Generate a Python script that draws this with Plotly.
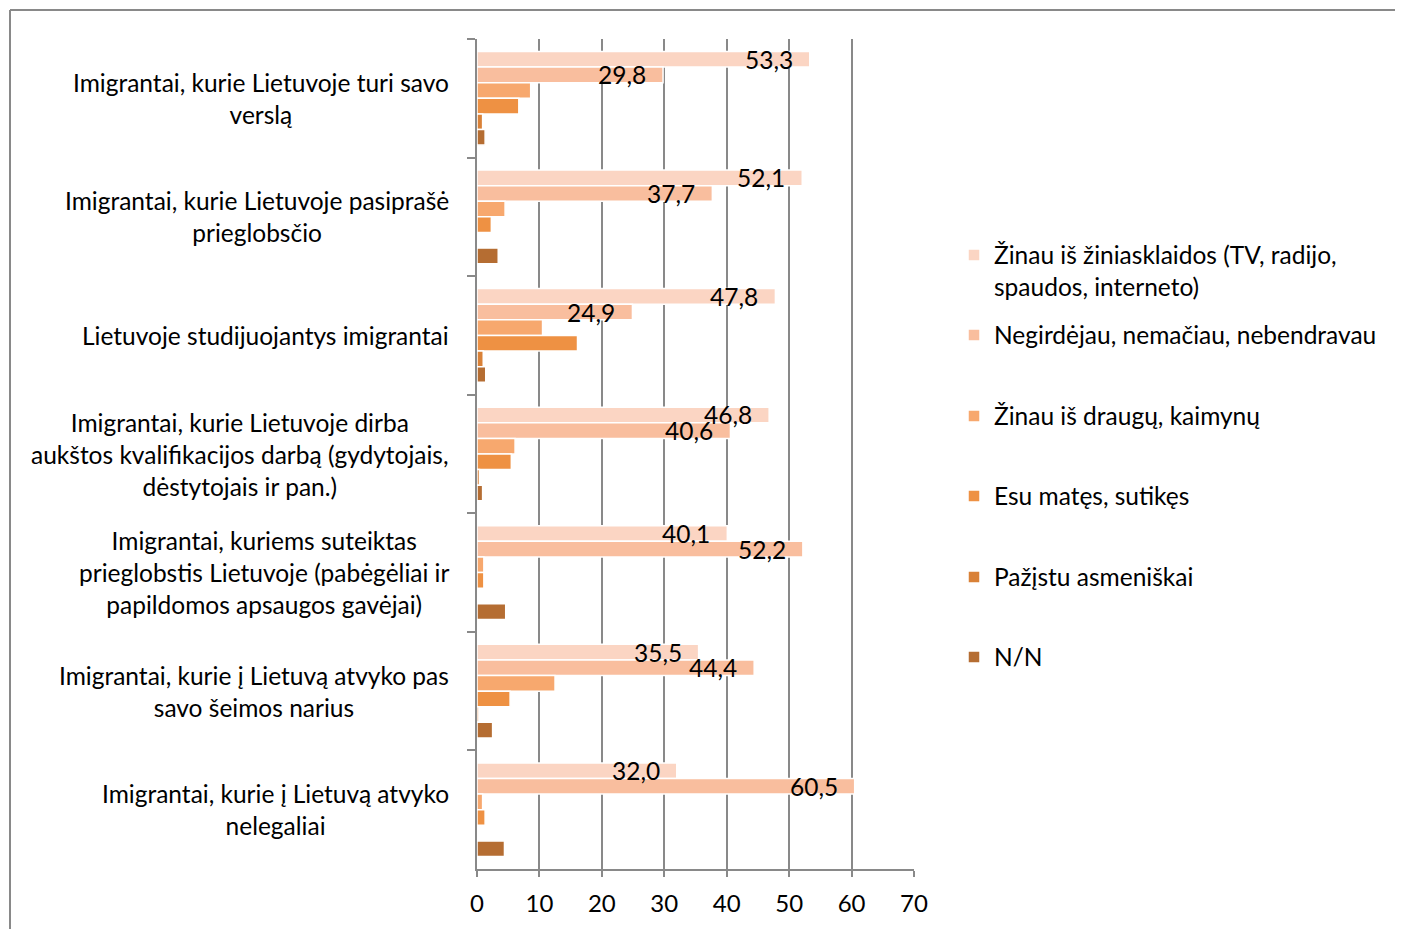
import plotly.graph_objects as go

categories = [
    "Imigrantai, kurie Lietuvoje turi savo<br>verslą",
    "Imigrantai, kurie Lietuvoje pasiprašė<br>prieglobsčio",
    "Lietuvoje studijuojantys imigrantai",
    "Imigrantai, kurie Lietuvoje dirba<br>aukštos kvalifikacijos darbą (gydytojais,<br>dėstytojais ir pan.)",
    "Imigrantai, kuriems suteiktas<br>prieglobstis Lietuvoje (pabėgėliai ir<br>papildomos apsaugos gavėjai)",
    "Imigrantai, kurie į Lietuvą atvyko pas<br>savo šeimos narius",
    "Imigrantai, kurie į Lietuvą atvyko<br>nelegaliai",
]
series_names = [
    "Žinau iš žiniasklaidos (TV, radijo,<br>spaudos, interneto)",
    "Negirdėjau, nemačiau, nebendravau",
    "Žinau iš draugų, kaimynų",
    "Esu matęs, sutikęs",
    "Pažįstu asmeniškai",
    "N/N",
]
media = [53.3, 52.1, 47.8, 46.8, 40.1, 35.5, 32.0]
never = [29.8, 37.7, 24.9, 40.6, 52.2, 44.4, 60.5]
friends = [8.6, 4.5, 10.5, 6.1, 1.1, 12.5, 0.9]
seen = [6.7, 2.3, 16.1, 5.5, 1.1, 5.3, 1.3]
know = [0.9, 0.0, 1.0, 0.4, 0.0, 0.3, 0.0]
nn = [1.3, 3.4, 1.4, 0.9, 4.6, 2.5, 4.4]
x_ticks = [0, 10, 20, 30, 40, 50, 60, 70]

colors = ["#FBD5C3", "#F9BE9E", "#F7A86E", "#EE9143", "#D98137", "#B56D32"]
values = [media, never, friends, seen, know, nn]
labelled = [True, True, False, False, False, False]

FONT = "Lato"
FS = 24.5
OFF = 8  # page offset of the figure inside the window
W, H = 1403 - OFF, 929 - OFF
L, T = 477 - OFF, 39 - OFF
R = W - (914 - OFF)
B = H - (869 - OFF)
pw, ph = W - L - R, H - T - B
BARGAP = 0.21

def px_to_paper_x(px):
    return (px - OFF - L) / pw

def px_to_paper_y(py):
    return (H - B - (py - OFF)) / ph

fig = go.Figure()
legend_y_px = [271, 335, 416, 496, 577, 657]
for i, (name, vals, col) in enumerate(zip(series_names, values, colors)):
    lg = "legend" if i == 0 else f"legend{i+1}"
    fig.add_trace(go.Bar(
        y=categories, x=vals, orientation="h", name=name,
        marker=dict(color=col, line=dict(color="white", width=1.5)),
        legend=lg, showlegend=True,
    ))

layout_legends = {}
for i, py in enumerate(legend_y_px):
    key = "legend" if i == 0 else f"legend{i+1}"
    layout_legends[key] = dict(
        x=px_to_paper_x(954), xanchor="left", y=px_to_paper_y(py), yanchor="middle",
        font=dict(family=FONT, size=FS, color="black"), bgcolor="rgba(0,0,0,0)",
        valign="top", borderwidth=0, visible=True,
    )

annotations = []
for c in categories:
    annotations.append(dict(
        x=px_to_paper_x(451), xref="paper", y=c, yref="y", xanchor="right", yanchor="middle",
        align="center", text=c, showarrow=False,
        font=dict(family=FONT, size=FS, color="black"),
    ))

# value labels (drawn above all bars), placed at each bar's end within its group slot
n_series = len(values)
band = ph / len(categories)
bar_w = band * (1 - BARGAP) / n_series
for i, vals in enumerate(values):
    if not labelled[i]:
        continue
    yshift = ((n_series - 1) / 2 - i) * bar_w
    for c, v in zip(categories, vals):
        annotations.append(dict(
            x=v, xref="x", y=c, yref="y", xanchor="right", yanchor="middle",
            xshift=-15, yshift=yshift, text=f"{v:.1f}".replace(".", ","), showarrow=False,
            font=dict(family=FONT, size=FS, color="black"),
        ))

grey = "#898989"
shapes = [
    dict(type="line", xref="paper", yref="paper", x0=px_to_paper_x(10), x1=px_to_paper_x(1420),
         y0=px_to_paper_y(10), y1=px_to_paper_y(10), line=dict(color=grey, width=2)),
    dict(type="line", xref="paper", yref="paper", x0=px_to_paper_x(10), x1=px_to_paper_x(10),
         y0=px_to_paper_y(10), y1=px_to_paper_y(950), line=dict(color=grey, width=2)),
]

fig.update_layout(
    width=W, height=H, margin=dict(l=L, r=R, t=T, b=B),
    paper_bgcolor="white", plot_bgcolor="white",
    barmode="group", bargap=BARGAP, bargroupgap=0,
    separators=", ", showlegend=True,
    font=dict(family=FONT, size=FS, color="black"),
    annotations=annotations, shapes=shapes,
    **layout_legends,
)
fig.update_xaxes(range=[0, 70], tickvals=x_ticks, showgrid=True, gridcolor=grey, gridwidth=1.5,
                 zeroline=False, showline=True, linecolor=grey, linewidth=1.5,
                 ticks="outside", ticklen=6, tickcolor=grey, tickwidth=1.5, ticklabelstandoff=6,
                 tickfont=dict(family=FONT, size=24, color="black"))
fig.update_yaxes(type="category", autorange="reversed", showticklabels=False,
                 showgrid=False, showline=True, linecolor=grey, linewidth=1.5,
                 ticks="outside", tickson="boundaries", ticklen=8, tickcolor=grey, tickwidth=1.5)

fig.write_html("out.html")
